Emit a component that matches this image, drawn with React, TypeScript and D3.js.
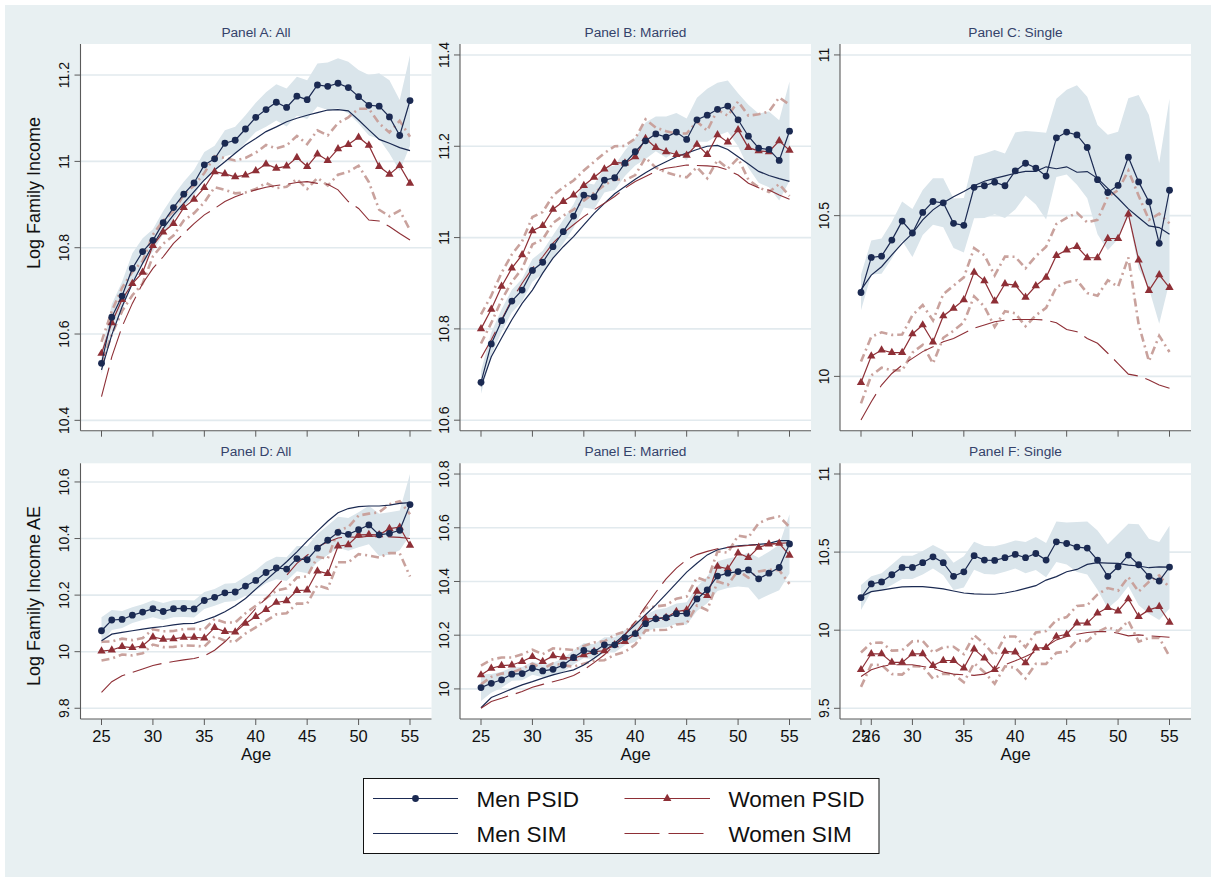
import React from 'react';
import * as d3 from 'd3';

// ---------- data ----------
const ages = [25, 26, 27, 28, 29, 30, 31, 32, 33, 34, 35, 36, 37, 38, 39, 40, 41, 42, 43, 44, 45, 46, 47, 48, 49, 50, 51, 52, 53, 54, 55];

// Panel A: All (log family income)
const menPsidA = [10.532, 10.639, 10.688, 10.752, 10.791, 10.817, 10.858, 10.893, 10.924, 10.95, 10.992, 11.006, 11.042, 11.049, 11.075, 11.102, 11.12, 11.137, 11.125, 11.151, 11.143, 11.177, 11.174, 11.181, 11.171, 11.15, 11.13, 11.128, 11.103, 11.06, 11.141];
const menHwA = [0.025, 0.03, 0.033, 0.035, 0.031, 0.026, 0.027, 0.028, 0.029, 0.03, 0.03, 0.03, 0.03, 0.031, 0.032, 0.034, 0.04, 0.042, 0.044, 0.045, 0.045, 0.05, 0.055, 0.058, 0.06, 0.062, 0.07, 0.076, 0.085, 0.082, 0.105];
const menSimA = [10.517, 10.598, 10.663, 10.717, 10.764, 10.806, 10.845, 10.876, 10.903, 10.93, 10.957, 10.98, 10.999, 11.019, 11.038, 11.053, 11.069, 11.08, 11.092, 11.1, 11.107, 11.113, 11.119, 11.12, 11.117, 11.096, 11.073, 11.051, 11.042, 11.032, 11.025];
const womenPsidA = [10.555, 10.626, 10.68, 10.717, 10.743, 10.805, 10.836, 10.856, 10.893, 10.912, 10.939, 10.976, 10.971, 10.964, 10.968, 10.978, 10.994, 10.984, 10.989, 11.009, 10.988, 11.017, 11.002, 11.029, 11.039, 11.056, 11.037, 10.988, 10.97, 10.99, 10.949];
const womenHwA = [0.027, 0.027, 0.027, 0.027, 0.026, 0.025, 0.027, 0.028, 0.03, 0.032, 0.034, 0.036, 0.037, 0.038, 0.04, 0.042, 0.044, 0.046, 0.048, 0.05, 0.052, 0.055, 0.058, 0.06, 0.063, 0.066, 0.085, 0.1, 0.097, 0.104, 0.108];
const womenSimA = [10.455, 10.547, 10.617, 10.671, 10.717, 10.752, 10.779, 10.81, 10.833, 10.856, 10.876, 10.891, 10.907, 10.918, 10.927, 10.934, 10.94, 10.944, 10.947, 10.951, 10.953, 10.949, 10.947, 10.934, 10.907, 10.891, 10.864, 10.862, 10.849, 10.833, 10.818];

// Panel B: Married
const menPsidB = [10.683, 10.767, 10.818, 10.861, 10.885, 10.928, 10.946, 10.98, 11.013, 11.047, 11.093, 11.089, 11.126, 11.131, 11.163, 11.188, 11.212, 11.227, 11.22, 11.231, 11.215, 11.258, 11.268, 11.281, 11.288, 11.258, 11.222, 11.196, 11.193, 11.169, 11.233];
const menHwB = [0.025, 0.025, 0.025, 0.025, 0.025, 0.025, 0.025, 0.025, 0.026, 0.026, 0.027, 0.027, 0.027, 0.027, 0.028, 0.03, 0.04, 0.038, 0.045, 0.042, 0.046, 0.048, 0.058, 0.058, 0.056, 0.058, 0.069, 0.076, 0.083, 0.088, 0.109];
const menSimB = [10.674, 10.739, 10.78, 10.82, 10.856, 10.885, 10.922, 10.955, 10.98, 11.002, 11.028, 11.053, 11.075, 11.096, 11.112, 11.128, 11.142, 11.155, 11.166, 11.177, 11.185, 11.193, 11.2, 11.202, 11.193, 11.177, 11.161, 11.145, 11.136, 11.129, 11.123];
const womenPsidB = [10.8, 10.843, 10.893, 10.933, 10.962, 11.015, 11.026, 11.062, 11.079, 11.093, 11.114, 11.132, 11.15, 11.164, 11.163, 11.177, 11.217, 11.197, 11.188, 11.182, 11.18, 11.204, 11.182, 11.225, 11.209, 11.236, 11.197, 11.19, 11.188, 11.212, 11.191];
const womenHwB = [0.032, 0.03, 0.03, 0.03, 0.03, 0.03, 0.03, 0.03, 0.031, 0.032, 0.033, 0.034, 0.035, 0.036, 0.038, 0.04, 0.042, 0.044, 0.045, 0.046, 0.048, 0.05, 0.052, 0.055, 0.058, 0.062, 0.07, 0.08, 0.088, 0.095, 0.1];
const womenSimB = [10.736, 10.776, 10.82, 10.864, 10.9, 10.933, 10.958, 10.988, 11.01, 11.028, 11.046, 11.061, 11.075, 11.09, 11.108, 11.123, 11.134, 11.145, 11.152, 11.155, 11.159, 11.158, 11.157, 11.155, 11.148, 11.137, 11.119, 11.109, 11.104, 11.093, 11.084];

// Panel C: Single
const menPsidC = [10.261, 10.37, 10.374, 10.424, 10.483, 10.446, 10.51, 10.544, 10.54, 10.476, 10.47, 10.588, 10.593, 10.604, 10.593, 10.639, 10.663, 10.648, 10.623, 10.742, 10.76, 10.751, 10.712, 10.612, 10.572, 10.594, 10.682, 10.605, 10.543, 10.414, 10.579];
const menHwC = [0.055, 0.053, 0.055, 0.057, 0.061, 0.075, 0.07, 0.072, 0.076, 0.077, 0.085, 0.096, 0.1, 0.1, 0.1, 0.12, 0.1, 0.113, 0.135, 0.122, 0.132, 0.155, 0.158, 0.17, 0.18, 0.167, 0.183, 0.27, 0.27, 0.25, 0.285];
const menSimC = [10.269, 10.315, 10.341, 10.378, 10.414, 10.445, 10.487, 10.518, 10.54, 10.559, 10.575, 10.593, 10.607, 10.616, 10.624, 10.632, 10.638, 10.638, 10.652, 10.646, 10.652, 10.635, 10.637, 10.616, 10.585, 10.554, 10.521, 10.494, 10.468, 10.463, 10.442];
const womenPsidC = [9.981, 10.063, 10.082, 10.074, 10.074, 10.132, 10.16, 10.107, 10.188, 10.212, 10.238, 10.324, 10.297, 10.234, 10.288, 10.284, 10.246, 10.282, 10.308, 10.376, 10.393, 10.404, 10.369, 10.369, 10.429, 10.429, 10.505, 10.362, 10.267, 10.316, 10.276];
const womenHwC = [0.065, 0.06, 0.055, 0.055, 0.056, 0.058, 0.062, 0.067, 0.068, 0.07, 0.07, 0.075, 0.08, 0.08, 0.085, 0.088, 0.09, 0.092, 0.095, 0.098, 0.1, 0.105, 0.11, 0.118, 0.13, 0.15, 0.135, 0.2, 0.22, 0.19, 0.2];
const womenSimC = [9.864, 9.921, 9.973, 10.009, 10.035, 10.056, 10.077, 10.092, 10.108, 10.118, 10.134, 10.15, 10.16, 10.17, 10.175, 10.177, 10.177, 10.177, 10.175, 10.167, 10.146, 10.139, 10.118, 10.103, 10.072, 10.04, 10.007, 10.001, 9.989, 9.973, 9.963];

// Panel D: All (adult-equivalent)
const menPsidD = [10.074, 10.112, 10.114, 10.129, 10.14, 10.152, 10.142, 10.152, 10.153, 10.151, 10.181, 10.192, 10.208, 10.211, 10.232, 10.252, 10.28, 10.296, 10.292, 10.329, 10.325, 10.366, 10.394, 10.422, 10.415, 10.431, 10.448, 10.413, 10.418, 10.429, 10.52];
const menHwD = [0.048, 0.035, 0.03, 0.028, 0.028, 0.03, 0.03, 0.03, 0.03, 0.03, 0.03, 0.03, 0.032, 0.032, 0.034, 0.036, 0.038, 0.04, 0.042, 0.045, 0.048, 0.05, 0.052, 0.055, 0.058, 0.062, 0.068, 0.075, 0.075, 0.07, 0.108];
const menSimD = [10.039, 10.062, 10.068, 10.074, 10.08, 10.085, 10.089, 10.095, 10.099, 10.1, 10.111, 10.124, 10.141, 10.162, 10.188, 10.221, 10.253, 10.285, 10.318, 10.353, 10.391, 10.426, 10.461, 10.491, 10.506, 10.513, 10.515, 10.515, 10.518, 10.524, 10.527];
const womenPsidD = [10.002, 10.006, 10.018, 10.014, 10.021, 10.052, 10.044, 10.045, 10.051, 10.051, 10.048, 10.085, 10.071, 10.069, 10.1, 10.124, 10.149, 10.174, 10.18, 10.216, 10.218, 10.285, 10.276, 10.373, 10.378, 10.413, 10.414, 10.413, 10.435, 10.44, 10.376];
const womenHwD = [0.033, 0.03, 0.028, 0.027, 0.027, 0.027, 0.028, 0.028, 0.029, 0.03, 0.03, 0.031, 0.032, 0.034, 0.036, 0.038, 0.04, 0.042, 0.044, 0.046, 0.048, 0.05, 0.053, 0.057, 0.062, 0.068, 0.074, 0.08, 0.086, 0.092, 0.11];
const womenSimD = [9.856, 9.894, 9.915, 9.927, 9.939, 9.951, 9.959, 9.965, 9.971, 9.976, 9.985, 10.005, 10.035, 10.071, 10.112, 10.153, 10.188, 10.229, 10.27, 10.312, 10.341, 10.371, 10.388, 10.402, 10.406, 10.404, 10.408, 10.408, 10.406, 10.404, 10.4];

// Panel E: Married (adult-equivalent)
const menPsidE = [10.005, 10.021, 10.034, 10.055, 10.057, 10.077, 10.067, 10.073, 10.089, 10.117, 10.143, 10.138, 10.164, 10.164, 10.191, 10.206, 10.243, 10.261, 10.265, 10.28, 10.281, 10.335, 10.369, 10.42, 10.431, 10.437, 10.443, 10.41, 10.431, 10.452, 10.54];
const menHwE = [0.05, 0.035, 0.03, 0.025, 0.025, 0.024, 0.024, 0.024, 0.025, 0.026, 0.028, 0.028, 0.028, 0.028, 0.028, 0.03, 0.032, 0.034, 0.036, 0.038, 0.042, 0.045, 0.05, 0.055, 0.055, 0.056, 0.065, 0.078, 0.08, 0.085, 0.11];
const menSimE = [9.93, 9.968, 9.984, 10.0, 10.015, 10.027, 10.04, 10.052, 10.062, 10.071, 10.089, 10.114, 10.142, 10.17, 10.204, 10.239, 10.276, 10.313, 10.353, 10.394, 10.435, 10.468, 10.499, 10.518, 10.527, 10.533, 10.535, 10.538, 10.542, 10.552, 10.552];
const womenPsidE = [10.052, 10.077, 10.087, 10.089, 10.102, 10.12, 10.102, 10.123, 10.118, 10.114, 10.127, 10.139, 10.142, 10.164, 10.176, 10.205, 10.26, 10.263, 10.266, 10.288, 10.294, 10.363, 10.347, 10.456, 10.447, 10.506, 10.489, 10.527, 10.539, 10.542, 10.497];
const womenHwE = [0.035, 0.032, 0.03, 0.028, 0.027, 0.026, 0.027, 0.028, 0.03, 0.031, 0.033, 0.034, 0.035, 0.037, 0.038, 0.04, 0.042, 0.044, 0.046, 0.048, 0.05, 0.052, 0.054, 0.056, 0.06, 0.065, 0.075, 0.09, 0.095, 0.1, 0.106];
const womenSimE = [9.928, 9.953, 9.965, 9.978, 9.99, 10.006, 10.017, 10.027, 10.037, 10.05, 10.071, 10.098, 10.127, 10.164, 10.201, 10.251, 10.307, 10.36, 10.41, 10.45, 10.481, 10.5, 10.512, 10.522, 10.527, 10.53, 10.534, 10.537, 10.539, 10.542, 10.544];

// Panel F: Single (adult-equivalent)
const menPsidF = [10.209, 10.296, 10.309, 10.355, 10.402, 10.402, 10.432, 10.47, 10.432, 10.345, 10.374, 10.477, 10.449, 10.447, 10.464, 10.485, 10.464, 10.491, 10.449, 10.566, 10.555, 10.532, 10.526, 10.449, 10.345, 10.406, 10.481, 10.419, 10.345, 10.315, 10.404];
const menHwF = [0.08, 0.05, 0.055, 0.065, 0.075, 0.075, 0.075, 0.075, 0.08, 0.087, 0.1, 0.09, 0.09, 0.09, 0.09, 0.09, 0.1, 0.105, 0.11, 0.13, 0.135, 0.16, 0.17, 0.19, 0.205, 0.21, 0.2, 0.26, 0.24, 0.25, 0.265];
const menSimF = [10.215, 10.247, 10.257, 10.268, 10.277, 10.279, 10.279, 10.272, 10.264, 10.251, 10.238, 10.232, 10.23, 10.23, 10.238, 10.251, 10.268, 10.285, 10.321, 10.343, 10.374, 10.389, 10.421, 10.432, 10.43, 10.428, 10.417, 10.411, 10.4, 10.406, 10.404];
const womenPsidF = [9.747, 9.849, 9.849, 9.794, 9.794, 9.849, 9.849, 9.774, 9.806, 9.806, 9.757, 9.879, 9.821, 9.747, 9.864, 9.86, 9.791, 9.885, 9.889, 9.96, 9.974, 10.045, 10.045, 10.109, 10.145, 10.123, 10.2, 10.087, 10.13, 10.151, 10.051];
const womenHwF = [0.11, 0.07, 0.072, 0.075, 0.078, 0.08, 0.082, 0.084, 0.085, 0.088, 0.09, 0.09, 0.09, 0.09, 0.095, 0.1, 0.1, 0.1, 0.105, 0.105, 0.11, 0.11, 0.115, 0.12, 0.125, 0.13, 0.14, 0.16, 0.18, 0.2, 0.22];
const womenSimF = [9.704, 9.747, 9.768, 9.779, 9.779, 9.779, 9.768, 9.757, 9.732, 9.719, 9.715, 9.711, 9.719, 9.747, 9.779, 9.804, 9.832, 9.864, 9.896, 9.938, 9.96, 9.974, 9.985, 9.991, 9.991, 9.981, 9.964, 9.97, 9.964, 9.96, 9.955];

// Axis ticks
const xTicksMain = [25, 30, 35, 40, 45, 50, 55];
const xTicksF = [25, 26, 30, 35, 40, 45, 50, 55];
const yTicksA = [10.4, 10.6, 10.8, 11, 11.2];
const yTicksB = [10.6, 10.8, 11, 11.2, 11.4];
const yTicksC = [10, 10.5, 11];
const yTicksD = [9.8, 10, 10.2, 10.4, 10.6];
const yTicksE = [10, 10.2, 10.4, 10.6, 10.8];
const yTicksF = [9.5, 10, 10.5, 11];

const legendLabels = ['Men PSID', 'Women PSID', 'Men SIM', 'Women SIM'];

// ---------- styling ----------
const FONT = '"Liberation Sans", Arial, Helvetica, sans-serif';
const NAVY = '#1b2a52';
const MAROON = '#8e2f36';
const CI_PINK = '#c9a29d';
const BAND = '#dae5eb';
const BG = '#e8f0f2';
const GRID = '#e2eaee';
const AXIS = '#5a5a5a';
const TITLE = '#34426a';
const SIM_DASH = '30,8';
const CI_DASH = '8,4,2,4';

const W = 1211;
const H = 877;
const colLeft = [80.5, 460, 840];
const plotW = 351;
const rowTop = [44, 463.3];
const rowBottom = [430.7, 719];

type PanelDef = {
  title: string;
  col: number;
  row: number;
  menPsid: number[];
  menHw: number[];
  menSim: number[];
  womenPsid: number[];
  womenHw: number[];
  womenSim: number[];
  yDomain: [number, number];
  yTicks: number[];
  xTicks: number[];
};

const panels: PanelDef[] = [
  { title: 'Panel A: All', col: 0, row: 0, menPsid: menPsidA, menHw: menHwA, menSim: menSimA, womenPsid: womenPsidA, womenHw: womenHwA, womenSim: womenSimA, yDomain: [10.376, 11.272], yTicks: yTicksA, xTicks: xTicksMain },
  { title: 'Panel B: Married', col: 1, row: 0, menPsid: menPsidB, menHw: menHwB, menSim: menSimB, womenPsid: womenPsidB, womenHw: womenHwB, womenSim: womenSimB, yDomain: [10.577, 11.424], yTicks: yTicksB, xTicks: xTicksMain },
  { title: 'Panel C: Single', col: 2, row: 0, menPsid: menPsidC, menHw: menHwC, menSim: menSimC, womenPsid: womenPsidC, womenHw: womenHwC, womenSim: womenSimC, yDomain: [9.831, 11.034], yTicks: yTicksC, xTicks: xTicksMain },
  { title: 'Panel D: All', col: 0, row: 1, menPsid: menPsidD, menHw: menHwD, menSim: menSimD, womenPsid: womenPsidD, womenHw: womenHwD, womenSim: womenSimD, yDomain: [9.762, 10.666], yTicks: yTicksD, xTicks: xTicksMain },
  { title: 'Panel E: Married', col: 1, row: 1, menPsid: menPsidE, menHw: menHwE, menSim: menSimE, womenPsid: womenPsidE, womenHw: womenHwE, womenSim: womenSimE, yDomain: [9.888, 10.84], yTicks: yTicksE, xTicks: xTicksMain },
  { title: 'Panel F: Single', col: 2, row: 1, menPsid: menPsidF, menHw: menHwF, menSim: menSimF, womenPsid: womenPsidF, womenHw: womenHwF, womenSim: womenSimF, yDomain: [9.4315, 11.0685], yTicks: yTicksF, xTicks: xTicksF },
];

const fmt = (v: number) => String(Math.round(v * 10) / 10);

function PanelView({ p }: { p: PanelDef }) {
  const left = colLeft[p.col];
  const right = left + plotW;
  const top = rowTop[p.row];
  const bottom = rowBottom[p.row];
  const x = d3.scaleLinear().domain([25, 55]).range([left + 21, left + 329.5]);
  const y = d3.scaleLinear().domain(p.yDomain).range([bottom, top]);

  const line = d3
    .line<number>()
    .x((_, i) => x(ages[i]))
    .y((v) => y(v));
  const band = d3
    .area<number>()
    .x((_, i) => x(ages[i]))
    .y0((v, i) => y(v - p.menHw[i]))
    .y1((v, i) => y(v + p.menHw[i]));
  const womenUpper = p.womenPsid.map((v, i) => v + p.womenHw[i]);
  const womenLower = p.womenPsid.map((v, i) => v - p.womenHw[i]);
  const tri = d3.symbol(d3.symbolTriangle, 30)() as string;
  const showXLabels = p.row === 1;
  const cx = (left + right) / 2;

  return (
    <g>
      <rect x={left} y={top} width={plotW} height={bottom - top} fill="#ffffff" />
      <text x={cx} y={top - 7.5} textAnchor="middle" fontSize={13.7} fill={TITLE} fontFamily={FONT}>
        {p.title}
      </text>
      {p.yTicks.map((t) => (
        <line key={'g' + t} x1={left} x2={right} y1={y(t)} y2={y(t)} stroke={GRID} strokeWidth={1.6} />
      ))}
      <path d={band(p.menPsid) || ''} fill={BAND} stroke="none" />
      <path d={line(womenUpper) || ''} fill="none" stroke={CI_PINK} strokeWidth={2.6} strokeDasharray={CI_DASH} />
      <path d={line(womenLower) || ''} fill="none" stroke={CI_PINK} strokeWidth={2.6} strokeDasharray={CI_DASH} />
      <path d={line(p.menSim) || ''} fill="none" stroke={NAVY} strokeWidth={1.2} />
      <path d={line(p.womenSim) || ''} fill="none" stroke={MAROON} strokeWidth={1.1} strokeDasharray={SIM_DASH} />
      <path d={line(p.womenPsid) || ''} fill="none" stroke={MAROON} strokeWidth={1.2} />
      {p.womenPsid.map((v, i) => (
        <path key={'t' + i} d={tri} transform={`translate(${x(ages[i])},${y(v)})`} fill={MAROON} />
      ))}
      <path d={line(p.menPsid) || ''} fill="none" stroke={NAVY} strokeWidth={1.2} />
      {p.menPsid.map((v, i) => (
        <circle key={'c' + i} cx={x(ages[i])} cy={y(v)} r={3.4} fill={NAVY} />
      ))}
      {/* axes */}
      <line x1={left} x2={left} y1={top} y2={bottom} stroke={AXIS} strokeWidth={1.1} />
      <line x1={left} x2={right} y1={bottom} y2={bottom} stroke={AXIS} strokeWidth={1.1} />
      {p.yTicks.map((t) => (
        <g key={'yt' + t}>
          <line x1={left - 6} x2={left} y1={y(t)} y2={y(t)} stroke={AXIS} strokeWidth={1} />
          <text
            x={left - 11}
            y={y(t)}
            transform={`rotate(-90, ${left - 11}, ${y(t)})`}
            textAnchor="middle"
            fontSize={14}
            fill="#111"
            fontFamily={FONT}
          >
            {fmt(t)}
          </text>
        </g>
      ))}
      {p.xTicks.map((t) => (
        <g key={'xt' + t}>
          <line x1={x(t)} x2={x(t)} y1={bottom} y2={bottom + 6} stroke={AXIS} strokeWidth={1} />
          {showXLabels && (
            <text x={x(t)} y={bottom + 23} textAnchor="middle" fontSize={16.5} fill="#111" fontFamily={FONT}>
              {t}
            </text>
          )}
        </g>
      ))}
      {showXLabels && (
        <text x={cx} y={bottom + 41} textAnchor="middle" fontSize={17} fill="#111" fontFamily={FONT}>
          Age
        </text>
      )}
    </g>
  );
}

function Legend() {
  const bx = 363.5;
  const by = 778.5;
  const rows = [798.5, 833.5];
  const cols = [
    { l0: 373, l1: 458, tx: 476.5 },
    { l0: 624.5, l1: 710, tx: 728.5 },
  ];
  const tri = d3.symbol(d3.symbolTriangle, 30)() as string;
  return (
    <g>
      <rect x={bx} y={by} width={515.5} height={75} fill="#ffffff" stroke="#111" strokeWidth={1} />
      {/* Men PSID */}
      <line x1={cols[0].l0} x2={cols[0].l1} y1={rows[0]} y2={rows[0]} stroke={NAVY} strokeWidth={1.2} />
      <circle cx={(cols[0].l0 + cols[0].l1) / 2} cy={rows[0]} r={3.4} fill={NAVY} />
      <text x={cols[0].tx} y={rows[0] + 8} fontSize={22.5} fontFamily={FONT} fill="#111">{legendLabels[0]}</text>
      {/* Women PSID */}
      <line x1={cols[1].l0} x2={cols[1].l1} y1={rows[0]} y2={rows[0]} stroke={MAROON} strokeWidth={1.2} />
      <path d={tri} transform={`translate(${(cols[1].l0 + cols[1].l1) / 2},${rows[0]})`} fill={MAROON} />
      <text x={cols[1].tx} y={rows[0] + 8} fontSize={22.5} fontFamily={FONT} fill="#111">{legendLabels[1]}</text>
      {/* Men SIM */}
      <line x1={cols[0].l0} x2={cols[0].l1} y1={rows[1]} y2={rows[1]} stroke={NAVY} strokeWidth={1.2} />
      <text x={cols[0].tx} y={rows[1] + 8} fontSize={22.5} fontFamily={FONT} fill="#111">{legendLabels[2]}</text>
      {/* Women SIM */}
      <line x1={cols[1].l0} x2={cols[1].l1} y1={rows[1]} y2={rows[1]} stroke={MAROON} strokeWidth={1.1} strokeDasharray="35,9" />
      <text x={cols[1].tx} y={rows[1] + 8} fontSize={22.5} fontFamily={FONT} fill="#111">{legendLabels[3]}</text>
    </g>
  );
}

export default function App() {
  return (
    <div style={{ position: 'absolute', left: 0, top: 0 }}>
      <svg width={W} height={H} xmlns="http://www.w3.org/2000/svg" style={{ display: 'block' }}>
        <rect x={0} y={0} width={W} height={H} fill="#ffffff" />
        <rect x={5} y={5} width={W - 5} height={H - 5} fill={BG} />
        <text
          x={40}
          y={193}
          transform="rotate(-90, 40, 193)"
          textAnchor="middle"
          fontSize={18}
          fill="#111"
          fontFamily={FONT}
        >
          Log Family Income
        </text>
        <text
          x={40}
          y={596}
          transform="rotate(-90, 40, 596)"
          textAnchor="middle"
          fontSize={18}
          fill="#111"
          fontFamily={FONT}
        >
          Log Family Income AE
        </text>
        {panels.map((p) => (
          <PanelView key={p.title} p={p} />
        ))}
        <Legend />
      </svg>
    </div>
  );
}
